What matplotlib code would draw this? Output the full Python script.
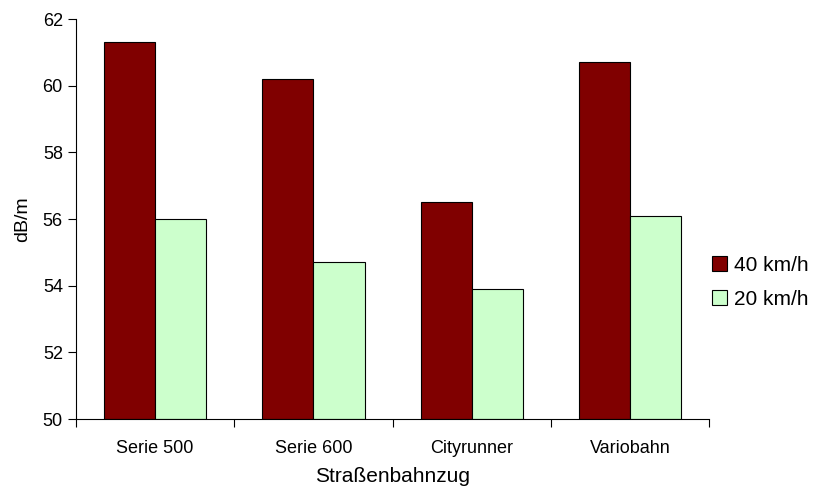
import matplotlib.pyplot as plt
import numpy as np

plt.rcParams['font.family'] = ['Liberation Sans', 'DejaVu Sans']

# data
trams = ["Serie 500", "Serie 600", "Cityrunner", "Variobahn"]
speed_40 = [61.3, 60.2, 56.5, 60.7]
speed_20 = [56.0, 54.7, 53.9, 56.1]
y_ticks = [50, 52, 54, 56, 58, 60, 62]

fig = plt.figure(figsize=(8.2, 4.91), dpi=100)
ax = fig.add_axes([0.0927, 0.1466, 0.772, 0.8147])

x = np.arange(len(trams))
w = 0.323
ax.bar(x - w / 2, np.array(speed_40) - 50, w, bottom=50, color="#800000",
       edgecolor="black", linewidth=0.8, label="40 km/h")
ax.bar(x + w / 2, np.array(speed_20) - 50, w, bottom=50, color="#CCFFCC",
       edgecolor="black", linewidth=0.8, label="20 km/h")

ax.set_ylim(50, 62)
ax.set_xlim(-0.5, len(trams) - 0.5)
ax.set_yticks(y_ticks)
ax.set_xticks(x)
ax.set_xticklabels(trams)
ax.set_xticks(np.arange(len(trams) + 1) - 0.5, minor=True)
ax.tick_params(axis='x', which='major', length=0, labelsize=13, pad=15)
ax.tick_params(axis='x', which='minor', length=6, width=0.8, direction='out')
ax.tick_params(axis='y', labelsize=13, length=6, width=0.8)

for side in ['top', 'right']:
    ax.spines[side].set_visible(False)
for side in ['left', 'bottom']:
    ax.spines[side].set_linewidth(0.8)

ax.set_ylabel("dB/m", fontsize=14, labelpad=8)
ax.set_xlabel("Straßenbahnzug", fontsize=15, labelpad=7)

fig.legend(loc='center left', bbox_to_anchor=(0.855, 0.425), frameon=False,
           fontsize=15, handlelength=0.72, handleheight=0.72,
           handletextpad=0.35, labelspacing=0.72, borderpad=0)

plt.savefig('out.png', dpi=100)
